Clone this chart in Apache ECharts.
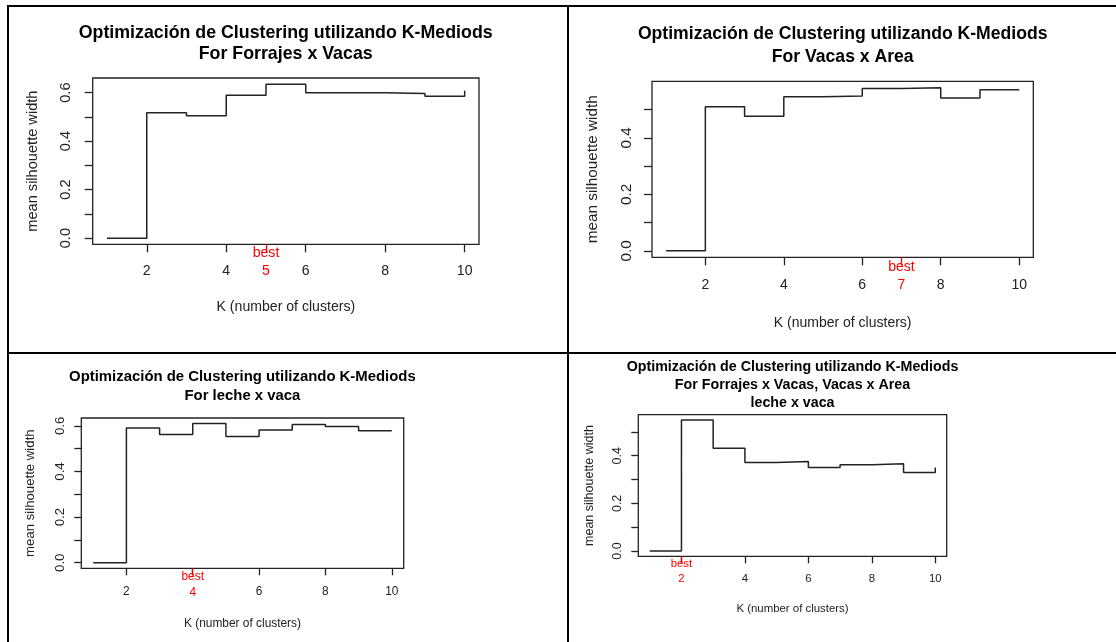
<!DOCTYPE html>
<html><head><meta charset="utf-8">
<script src="https://cdn.jsdelivr.net/npm/echarts@6/dist/echarts.min.js"></script>
<style>html,body{margin:0;padding:0;background:#fff}#c{width:1116px;height:642px}</style>
</head><body><div id="c"></div>
<script>
// ---- data ----
const kValues = [1, 2, 3, 4, 5, 6, 7, 8, 9, 10];
const silForrajesVacas = [0, 0.517, 0.505, 0.589, 0.635, 0.600, 0.600, 0.596, 0.585, 0.608];
const silVacasArea     = [0, 0.510, 0.476, 0.545, 0.548, 0.575, 0.577, 0.541, 0.570, 0.570];
const silLecheVaca     = [0, 0.591, 0.562, 0.610, 0.553, 0.582, 0.606, 0.597, 0.579, 0.577];
const silCombinado     = [0, 0.550, 0.431, 0.372, 0.376, 0.350, 0.362, 0.366, 0.330, 0.351];
const bestK = [5, 7, 4, 2];
const titles = [
  'Optimización de Clustering utilizando K-Mediods\nFor Forrajes x Vacas',
  'Optimización de Clustering utilizando K-Mediods\nFor Vacas x Area',
  'Optimización de Clustering utilizando K-Mediods\nFor leche x vaca',
  'Optimización de Clustering utilizando K-Mediods\nFor Forrajes x Vacas, Vacas x Area\nleche x vaca'
];
const xTickLabels = [2, 4, 6, 8, 10];
const yTicksTo06 = [0, 0.1, 0.2, 0.3, 0.4, 0.5, 0.6];
const yTicksTo05 = [0, 0.1, 0.2, 0.3, 0.4, 0.5];
const yLabelsTo06 = [0, 0.2, 0.4, 0.6];
const yLabelsTo04 = [0, 0.2, 0.4];
const xAxisTitle = 'K (number of clusters)';
const yAxisTitle = 'mean silhouette width';

// ---- layout (positions / styles only) ----
const panels = [
  {values: silForrajesVacas, best: bestK[0], title: titles[0], yTicks: yTicksTo06, yLabels: yLabelsTo06,
   grid: {left: 92.7, top: 78, width: 386.3, height: 166.3}, titleX: 285.7, titleTop: 23, titleSize: 17.8, titleLH: 20.7,
   fs: 14.1, yfs: 14.6, tick: 8, xLM: 19.4, bestM: 0.3, bestLH: 17.4, xNG: 55.4, yNG: 52.7, yLM: 19},
  {values: silVacasArea, best: bestK[1], title: titles[1], yTicks: yTicksTo05, yLabels: yLabelsTo04,
   grid: {left: 652, top: 81.3, width: 381.3, height: 176}, titleX: 842.7, titleTop: 23.1, titleSize: 17.6, titleLH: 22.4,
   fs: 14, yfs: 15.3, tick: 8, xLM: 20.7, bestM: 1.1, bestLH: 17.7, xNG: 59, yNG: 51.5, yLM: 17.8},
  {values: silLecheVaca, best: bestK[2], title: titles[2], yTicks: yTicksTo06, yLabels: yLabelsTo06,
   grid: {left: 81.3, top: 418, width: 322.4, height: 150.3}, titleX: 242.4, titleTop: 368, titleSize: 14.9, titleLH: 18.7,
   fs: 11.9, yfs: 13.2, tick: 7, xLM: 17.7, bestM: 0, bestLH: 16, xNG: 49.7, yNG: 44, yLM: 14.8},
  {values: silCombinado, best: bestK[3], title: titles[3], yTicks: yTicksTo05, yLabels: yLabelsTo04,
   grid: {left: 638.3, top: 414.7, width: 308.4, height: 141.6}, titleX: 792.5, titleTop: 357.7, titleSize: 14.25, titleLH: 18,
   fs: 11.4, yfs: 12.5, tick: 7, xLM: 17, bestM: 0.2, bestLH: 15, xNG: 47.3, yNG: 42.7, yLM: 13.8}
];

const FONT = 'Liberation Sans, Arial, sans-serif';
const INK = '#222';
const xMin = 1 - 0.04 * 9, xMax = 10 + 0.04 * 9;

const option = {animation: false, title: [], grid: [], xAxis: [], yAxis: [], series: [], graphic: []};

panels.forEach((p, i) => {
  const ymax = Math.max(...p.values);
  option.title.push({
    text: p.title, left: p.titleX, top: p.titleTop, textAlign: 'center', padding: 0,
    textStyle: {fontFamily: FONT, fontWeight: 'bold', fontSize: p.titleSize, lineHeight: p.titleLH, color: '#000'}
  });
  option.grid.push(Object.assign({show: true, borderColor: INK, borderWidth: 1.3, backgroundColor: 'transparent', containLabel: false}, p.grid));
  // black x axis
  option.xAxis.push({
    type: 'value', gridIndex: i, min: xMin, max: xMax, position: 'bottom',
    name: xAxisTitle, nameLocation: 'middle', nameGap: p.xNG,
    nameTextStyle: {fontFamily: FONT, fontSize: p.fs, color: INK, lineHeight: p.fs, verticalAlign: 'top'},
    axisLine: {show: false, onZero: false}, splitLine: {show: false},
    axisTick: {show: true, customValues: xTickLabels, length: p.tick, lineStyle: {color: INK, width: 1.3}},
    axisLabel: {customValues: xTickLabels.filter(v => v !== p.best), margin: p.xLM, fontFamily: FONT, fontSize: p.fs,
                lineHeight: p.fs, color: INK, verticalAlign: 'top'}
  });
  // red "best" x axis
  option.xAxis.push({
    type: 'value', gridIndex: i, min: xMin, max: xMax, position: 'bottom',
    axisLine: {show: false, onZero: false}, splitLine: {show: false},
    axisTick: {show: true, customValues: [p.best], length: p.tick, lineStyle: {color: '#ff0000', width: 1.3}},
    axisLabel: {customValues: [p.best], margin: p.bestM, fontFamily: FONT, fontSize: p.fs, lineHeight: p.bestLH,
                color: '#ff0000', verticalAlign: 'top', formatter: v => 'best\n' + v}
  });
  option.yAxis.push({
    type: 'value', gridIndex: i, min: -0.04 * ymax, max: 1.04 * ymax,
    name: yAxisTitle, nameLocation: 'middle', nameGap: p.yNG, nameRotate: 90,
    nameTextStyle: {fontFamily: FONT, fontSize: p.yfs, color: INK},
    axisLine: {show: false, onZero: false}, splitLine: {show: false},
    axisTick: {show: true, customValues: p.yTicks, length: p.tick, lineStyle: {color: INK, width: 1.3}},
    axisLabel: {customValues: p.yLabels, rotate: 90, margin: p.yLM, fontFamily: FONT, fontSize: p.yfs, color: INK,
                formatter: v => v.toFixed(1)}
  });
  option.series.push({
    type: 'line', step: 'end', xAxisIndex: 2 * i, yAxisIndex: i, showSymbol: false, silent: true,
    lineStyle: {color: INK, width: 1.5},
    data: kValues.map((k, j) => [k, p.values[j]])
  });
});

// frame lines of the original document table
const frame = {stroke: '#000', lineWidth: 2};
option.graphic = [
  {type: 'line', shape: {x1: 7, y1: 6, x2: 1116, y2: 6}, style: frame},
  {type: 'line', shape: {x1: 8, y1: 5, x2: 8, y2: 642}, style: frame},
  {type: 'line', shape: {x1: 568, y1: 5, x2: 568, y2: 642}, style: frame},
  {type: 'line', shape: {x1: 7, y1: 353, x2: 1116, y2: 353}, style: frame}
];

const chart = echarts.init(document.getElementById('c'), null, {renderer: 'canvas'});
chart.setOption(option);
</script>
</body></html>
